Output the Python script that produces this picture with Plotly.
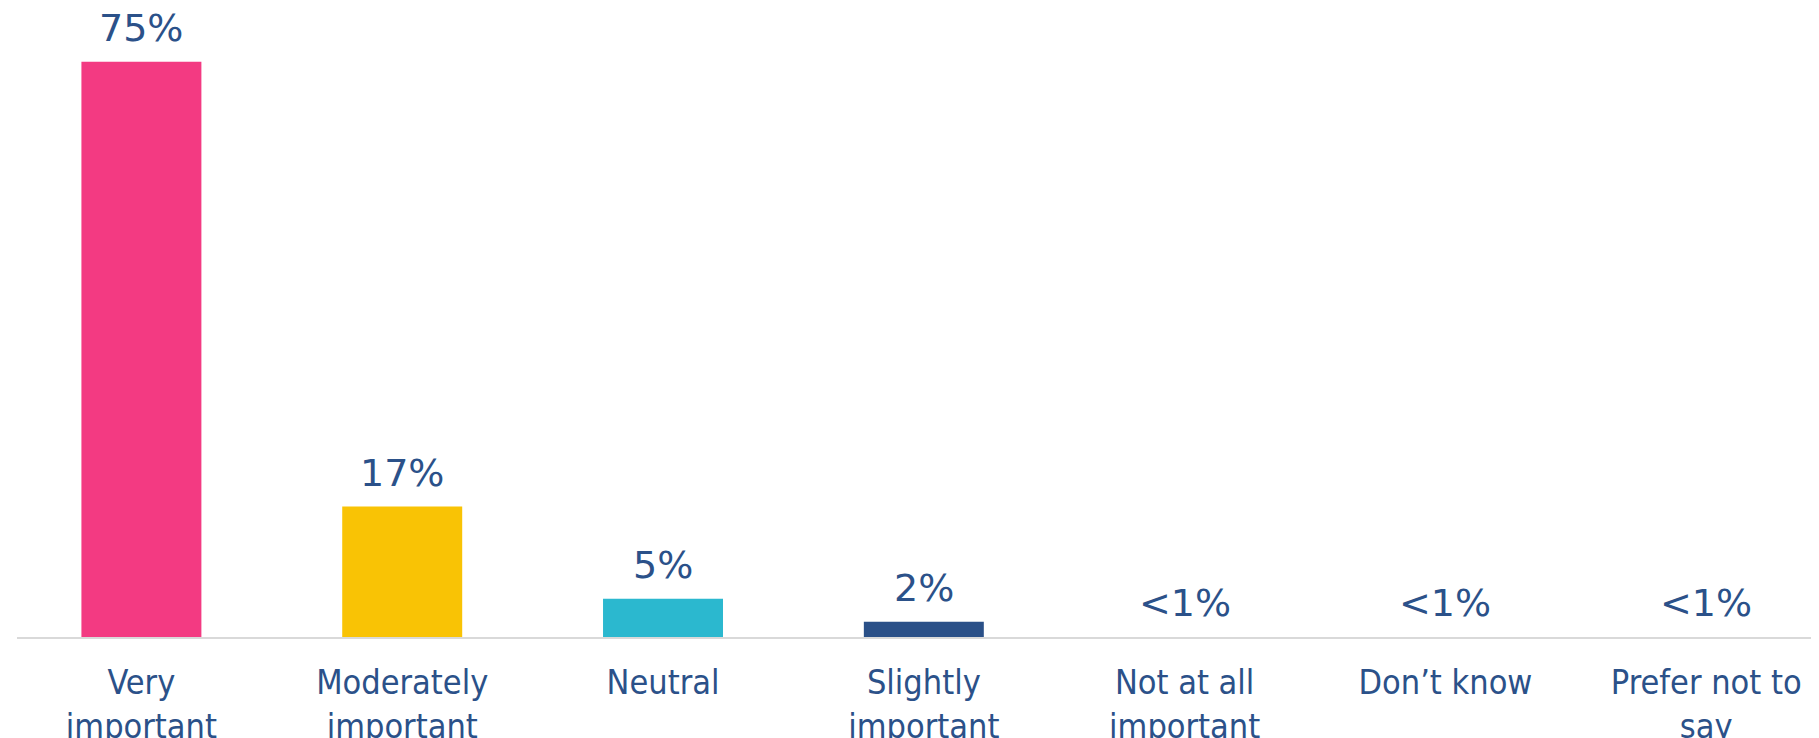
import plotly.graph_objects as go

categories = ["Very<br>important", "Moderately<br>important", "Neutral", "Slightly<br>important",
              "Not at all<br>important", "Don’t know", "Prefer not to<br>say"]
values = [75, 17, 5, 2, 0, 0, 0]
labels = ["75%", "17%", "5%", "2%", "<1%", "<1%", "<1%"]
colors = ["#F33A82", "#F9C305", "#2BB8CF", "#2A5088", "#2A5088", "#2A5088", "#2A5088"]

TICK_FONT = "DejaVu Sans Condensed, DejaVu Sans, sans-serif"
LABEL_FONT = "DejaVu Sans, Verdana, sans-serif"
TXT = "#2B5189"

fig = go.Figure()
fig.add_trace(go.Bar(x=categories, y=values, marker=dict(color=colors, line=dict(width=0)),
                     hoverinfo="skip", showlegend=False))

for c, v, t in zip(categories, values, labels):
    fig.add_annotation(x=c, y=v, text=t, showarrow=False, yanchor="bottom", yshift=10,
                       font=dict(family=LABEL_FONT, size=38, color=TXT))

fig.update_layout(
    width=1819, height=738,
    margin=dict(l=9, r=0, t=0, b=100),
    paper_bgcolor="white", plot_bgcolor="white",
    bargap=0.54,
    xaxis=dict(range=[-0.477, 6.463], showline=True, linecolor="#D9D9D9", linewidth=2,
               ticks="outside", ticklen=14, tickcolor="rgba(0,0,0,0)",
               tickfont=dict(family=TICK_FONT, size=34, color=TXT), showgrid=False, fixedrange=True),
    yaxis=dict(range=[0, 82.0], visible=False, fixedrange=True),
)

fig.write_html("out.html")
